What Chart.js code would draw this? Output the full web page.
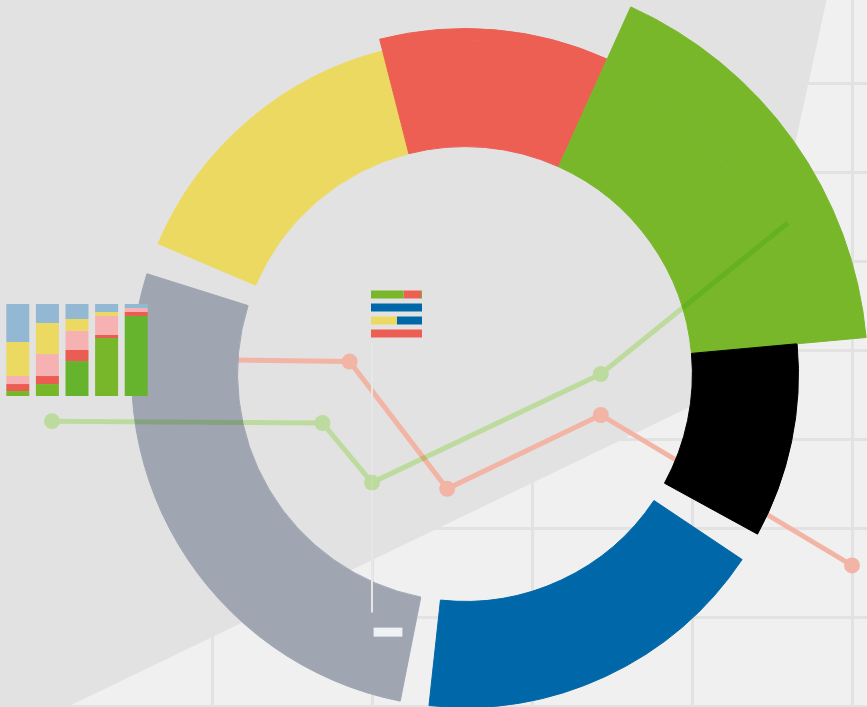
<!DOCTYPE html>
<html>
<head>
<meta charset="utf-8">
<script src="https://cdn.jsdelivr.net/npm/chart.js"></script>
<style>
  html, body { margin: 0; padding: 0; background: #f0f0f0; overflow: hidden; }
  #stage { position: relative; width: 867px; height: 707px; background: #f0f0f0; overflow: hidden; }
  #stage canvas { position: absolute; }
</style>
</head>
<body>
<div id="stage">
  <canvas id="cBack"  width="867" height="707" style="left:0;top:0"></canvas>
  <canvas id="cRing"  width="867" height="707" style="left:0;top:0"></canvas>
  <canvas id="cMarks" width="867" height="707" style="left:0;top:0"></canvas>
  <canvas id="cGreen" width="867" height="707" style="left:0;top:0;mix-blend-mode:multiply"></canvas>
  <canvas id="cStack" width="148" height="92" style="left:3px;top:304px"></canvas>
  <canvas id="cMini"  width="51"  height="52" style="left:371px;top:288px"></canvas>
</div>
<script>
// ---------------- data ----------------
// background grid (plane units)
const gridXTicks = [0, 1, 2, 3, 4, 5];
const gridYTicks = [0, 1, 2, 3, 4, 5, 6, 7];

// shaded band edge (plane units), filled up to the top
const bandX = [-0.47, 4.32, 4.91];
const bandY = [-0.5, 3.65, 8.5];

// salmon series (below the ring)
const salmonX = [1.0, 1.86, 2.47, 3.43, 5.0];
const salmonY = [3.89, 3.87, 2.44, 3.27, 1.58];

// green series (above the ring)
const greenX = [0.0, 1.69, 2.0, 3.43, 4.6];
const greenY = [3.20, 3.18, 2.51, 3.73, 5.43];

// thin marker + tab
const stripX = [2.0, 2.0];
const stripY = [4.08, 1.05];
const tabX = [2.01, 2.19];
const tabY = [0.83, 0.83];

// ring slices (degrees, clockwise) and how many ring levels each reaches
const sliceLabels = ['Yellow', 'Red', 'Green', 'Black', 'gap1', 'Blue', 'gap2', 'Gray', 'gap3'];
const sliceValues = [52.7, 38.6, 60.5, 33.9, 5.1, 62.4, 5.0, 96.3, 5.5];
const sliceReach  = [1, 2, 3, 1, 0, 1, 0, 1, 0];

// stacked columns (top-left), percent
const stackCats   = ['1', '2', '3', '4', '5'];
const stackGreen  = [5.4, 13.0, 38.0, 63.0, 87.0];
const stackRed    = [7.6, 8.7, 12.0, 3.3, 4.3];
const stackPink   = [8.7, 23.9, 20.7, 20.7, 4.3];
const stackYellow = [37.0, 33.7, 13.0, 4.3, 0];
const stackBlue   = [41.3, 20.7, 16.3, 8.7, 4.4];

// mini horizontal stacked bars (center), percent
const miniCats   = ['a', 'b', 'c', 'd'];
const miniGreen  = [64, 0, 0, 0];
const miniYellow = [0, 0, 51, 0];
const miniRed    = [34, 0, 0, 100];
const miniBlue   = [0, 100, 49, 0];
const miniLime   = [2, 0, 0, 0];

// ---------------- styling / layout ----------------
const C = {
  yellow: '#ecd962', red: '#ec5f52', green: '#78b72a', green2: '#66b32e', black: '#000000',
  blue: '#0067a8', gray: '#9fa6b2', lightBlue: '#93b8d4', pink: '#f6b2b2', red2: '#eb5d52',
  band: '#e3e2e3', grid: '#e2e2e2', salmon: '#f2b4a4', greenLine: '#d6f8b3',
  strip: '#e7e7ea', tab: '#eef2f5', none: 'rgba(0,0,0,0)'
};
const sliceColors = [C.yellow, C.red, C.green, C.black, C.none, C.blue, C.none, C.gray, C.none];
const stackGreenShades = [C.green, C.green, C.green2, C.green, C.green2];

const W = 867, H = 707;
const plane = { originX: 52, originY: 706, unitX: 160, unitY: 89 };
const planeBounds = {
  xMin: (0 - plane.originX) / plane.unitX,
  xMax: (W - plane.originX) / plane.unitX,
  yMin: (plane.originY - H) / plane.unitY,
  yMax: plane.originY / plane.unitY
};
const ring = { cx: 465, cy: 374, outer: 402.8, inner: 227.4, weights: [57.3, 12.0, 106.1] };

Chart.defaults.animation = false;
Chart.defaults.events = [];
Chart.defaults.plugins.legend.display = false;
Chart.defaults.plugins.tooltip.enabled = false;

const pts = (xs, ys) => xs.map((x, i) => ({ x: x, y: ys[i] }));

function planeScales(showGrid) {
  const grid = { display: showGrid, color: C.grid, lineWidth: 3, drawTicks: false };
  return {
    x: {
      type: 'linear', min: planeBounds.xMin, max: planeBounds.xMax, display: showGrid,
      ticks: { display: false, includeBounds: false }, grid: grid, border: { display: false },
      afterBuildTicks: s => { s.ticks = gridXTicks.map(v => ({ value: v })); },
      afterFit: s => { s.height = 0; }
    },
    y: {
      type: 'linear', min: planeBounds.yMin, max: planeBounds.yMax, display: showGrid,
      ticks: { display: false, includeBounds: false }, grid: grid, border: { display: false },
      afterBuildTicks: s => { s.ticks = gridYTicks.map(v => ({ value: v })); },
      afterFit: s => { s.width = 0; }
    }
  };
}
const planeBase = {
  responsive: false, maintainAspectRatio: false, devicePixelRatio: 1,
  layout: { padding: 0, autoPadding: false }
};

// ---------------- background: grid, band, salmon line ----------------
new Chart(document.getElementById('cBack'), {
  type: 'scatter',
  data: {
    datasets: [
      {
        label: 'salmon', data: pts(salmonX, salmonY), showLine: true, order: 1,
        borderColor: C.salmon, backgroundColor: C.salmon, borderWidth: 5,
        pointRadius: 8, pointBorderWidth: 0, pointBackgroundColor: C.salmon, clip: false
      },
      {
        label: 'band', data: pts(bandX, bandY), showLine: true, order: 2,
        borderWidth: 0, pointRadius: 0, backgroundColor: C.band, fill: 'end'
      }
    ]
  },
  options: Object.assign({}, planeBase, { scales: planeScales(true) })
});

// ---------------- ring ----------------
const ringLevels = [3, 2, 1];
new Chart(document.getElementById('cRing'), {
  type: 'doughnut',
  data: {
    labels: sliceLabels,
    datasets: ringLevels.map((lvl, i) => {
      const cols = sliceColors.map((c, j) => (sliceReach[j] >= lvl ? c : C.none));
      return {
        data: sliceValues,
        weight: ring.weights[i],
        backgroundColor: cols,
        borderColor: cols,
        borderWidth: cols.map(c => (c === C.none ? 0 : 1))
      };
    })
  },
  options: {
    responsive: false, maintainAspectRatio: false, devicePixelRatio: 1,
    rotation: -67,
    radius: ring.outer,
    cutout: (ring.inner / ring.outer * 100) + '%',
    layout: { padding: { left: 2 * ring.cx - W, top: 2 * ring.cy - H, right: 0, bottom: 0 } }
  }
});

// ---------------- marker strip + tab ----------------
new Chart(document.getElementById('cMarks'), {
  type: 'scatter',
  data: {
    datasets: [
      { data: pts(stripX, stripY), showLine: true, borderColor: C.strip, borderWidth: 2, pointRadius: 0, borderCapStyle: 'butt' },
      { data: pts(tabX, tabY), showLine: true, borderColor: C.tab, borderWidth: 9, pointRadius: 0, borderCapStyle: 'butt' }
    ]
  },
  options: Object.assign({}, planeBase, { scales: planeScales(false) })
});

// ---------------- green line (multiply) ----------------
new Chart(document.getElementById('cGreen'), {
  type: 'scatter',
  data: {
    datasets: [{
      data: pts(greenX, greenY), showLine: true,
      borderColor: C.greenLine, backgroundColor: C.greenLine, borderWidth: 5,
      pointBackgroundColor: C.greenLine, pointBorderWidth: 0,
      pointRadius: greenX.map((v, i) => (i === greenX.length - 1 ? 0 : 8)), clip: false
    }]
  },
  options: Object.assign({}, planeBase, { scales: planeScales(false) })
});

// ---------------- stacked columns ----------------
new Chart(document.getElementById('cStack'), {
  type: 'bar',
  data: {
    labels: stackCats,
    datasets: [
      { data: stackGreen, backgroundColor: stackGreenShades },
      { data: stackRed, backgroundColor: C.red2 },
      { data: stackPink, backgroundColor: C.pink },
      { data: stackYellow, backgroundColor: C.yellow },
      { data: stackBlue, backgroundColor: C.lightBlue }
    ]
  },
  options: {
    responsive: false, maintainAspectRatio: false, devicePixelRatio: 1,
    layout: { padding: 0, autoPadding: false },
    datasets: { bar: { barPercentage: 0.777, categoryPercentage: 1, borderWidth: 0 } },
    scales: {
      x: { stacked: true, display: false },
      y: { stacked: true, display: false, min: 0, max: 100 }
    }
  }
});

// ---------------- mini horizontal stacked bars ----------------
new Chart(document.getElementById('cMini'), {
  type: 'bar',
  data: {
    labels: miniCats,
    datasets: [
      { data: miniGreen, backgroundColor: C.green },
      { data: miniYellow, backgroundColor: C.yellow },
      { data: miniRed, backgroundColor: C.red },
      { data: miniBlue, backgroundColor: C.blue },
      { data: miniLime, backgroundColor: C.green }
    ]
  },
  options: {
    indexAxis: 'y',
    responsive: false, maintainAspectRatio: false, devicePixelRatio: 1,
    layout: { padding: 0, autoPadding: false },
    datasets: { bar: { barPercentage: 0.615, categoryPercentage: 1, borderWidth: 0 } },
    scales: {
      x: { stacked: true, display: false, min: 0, max: 100 },
      y: { stacked: true, display: false }
    }
  }
});
</script>
</body>
</html>
